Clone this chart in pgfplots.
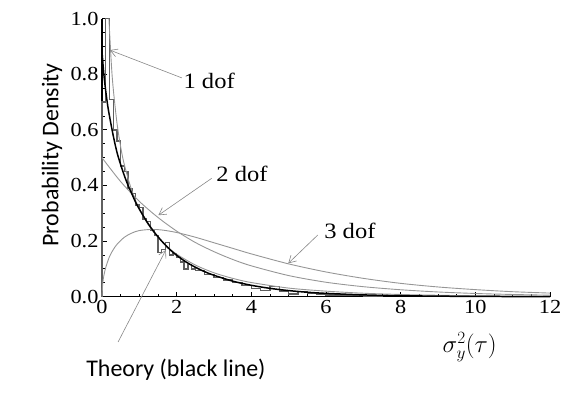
\documentclass[border=0pt]{standalone}
\usepackage{fontspec}
\setmainfont{Liberation Serif}[FakeStretch=1.12]
\newfontfamily\sansf{Carlito}
\usepackage{pgfplots}
\pgfplotsset{compat=1.18}
\usetikzlibrary{arrows.meta}
\definecolor{cgray}{RGB}{150,150,150}
\definecolor{hgray}{RGB}{95,95,95}
\definecolor{agray}{RGB}{135,135,135}
\begin{document}
\begin{tikzpicture}
\begin{axis}[
  at={(0,0)}, anchor=south west,
  width=448bp, height=278bp, scale only axis,
  xmin=0, xmax=12, ymin=0, ymax=1,
  axis lines=left, axis line style={-, line width=1.1pt},
  xtick={0,2,4,6,8,10,12}, ytick={0,0.2,0.4,0.6,0.8,1.0},
  minor x tick num=3, minor y tick num=3,
  tick align=inside, major tick length=5bp, minor tick length=3bp,
  tick style={black, line width=0.9pt},
  /pgf/number format/assume math mode=true,
  yticklabel style={/pgf/number format/fixed, /pgf/number format/fixed zerofill, /pgf/number format/precision=1},
  ticklabel style={font=\fontsize{20}{22}\selectfont},
  clip=false,
]
% histogram
\addplot[const plot, hgray, line width=1.3pt] coordinates {
(0,0) (0,0.70) (0.1,1.00) (0.2,0.71) (0.3,0.60) (0.4,0.56) (0.5,0.47) (0.6,0.45) (0.7,0.39) (0.8,0.37) (0.9,0.33)
(1.0,0.32) (1.1,0.28) (1.2,0.27) (1.3,0.24) (1.4,0.22) (1.5,0.16) (1.6,0.17) (1.7,0.195) (1.8,0.15) (1.9,0.155)
(2.0,0.14) (2.1,0.125) (2.2,0.10) (2.3,0.115) (2.4,0.10) (2.5,0.095) (2.75,0.08) (3.0,0.07) (3.25,0.06) (3.5,0.05)
(3.75,0.040) (4.0,0.030) (4.25,0.022) (4.5,0.036) (4.75,0.020) (5.0,0.010) (5.25,0.018) (5.5,0.012) (5.75,0.010)
(6.0,0.006) (6.5,0.004) (7.0,0.002) (7.5,0)
};
% 1 dof
\addplot[cgray, line width=0.9pt, smooth] coordinates {
(0.185,1.0) (0.25,0.838) (0.3,0.750) (0.4,0.626) (0.5,0.539) (0.6,0.474) (0.8,0.381) (1.0,0.316) (1.25,0.257)
(1.5,0.214) (1.75,0.180) (2,0.153) (2.5,0.114) (3,0.086) (3.5,0.066) (4,0.051) (5,0.031) (6,0.020) (7,0.0125)
(8,0.008) (9,0.0052) (10,0.0034) (12,0.0015)
};
% 2 dof
\addplot[cgray, line width=0.9pt, smooth] coordinates {
(0,0.5) (0.5,0.414) (1,0.343) (1.5,0.285) (2,0.236) (2.5,0.195) (3,0.162) (3.5,0.134) (4,0.111) (5,0.076)
(6,0.052) (7,0.036) (8,0.025) (9,0.017) (10,0.0116) (11,0.008) (12,0.0055)
};
% 3 dof
\addplot[cgray, line width=0.9pt, smooth] coordinates {
(0,0) (0.02,0.048) (0.05,0.076) (0.1,0.105) (0.2,0.144) (0.3,0.169) (0.4,0.188) (0.6,0.214) (0.8,0.229) (1.0,0.238)
(1.33,0.242) (1.6,0.240) (2,0.231) (2.5,0.214) (3,0.194) (3.5,0.174) (4,0.154) (5,0.118) (6,0.089) (7,0.066)
(8,0.048) (9,0.035) (10,0.0255) (11,0.018) (12,0.013)
};
% theory
\addplot[black, line width=1.5pt, smooth] coordinates {
(0,0.88) (0.05,0.80) (0.1,0.74) (0.15,0.69) (0.2,0.65) (0.3,0.58) (0.4,0.52) (0.5,0.475) (0.6,0.435) (0.7,0.40)
(0.8,0.37) (0.9,0.34) (1.0,0.315) (1.2,0.27) (1.4,0.232) (1.6,0.20) (1.8,0.172) (2.0,0.149) (2.25,0.125) (2.5,0.106)
(2.75,0.090) (3.0,0.077) (3.5,0.056) (4.0,0.041) (4.5,0.030) (5.0,0.022) (5.5,0.016) (6.0,0.012) (7.0,0.0065)
(8.0,0.0035) (9,0.002) (10,0.001) (12,0.0003)
};
% annotations
\draw[agray, line width=0.6pt, -{Straight Barb[length=7bp,width=8bp]}] (axis cs:2.14,0.787) -- (axis cs:0.21,0.887);
\node[font=\fontsize{22}{24}\selectfont] at (axis cs:2.87,0.776) {1 dof};
\draw[agray, line width=0.6pt, -{Straight Barb[length=7bp,width=8bp]}] (axis cs:2.94,0.426) -- (axis cs:1.51,0.293);
\node[font=\fontsize{22}{24}\selectfont] at (axis cs:3.75,0.441) {2 dof};
\draw[agray, line width=0.6pt, -{Straight Barb[length=7bp,width=8bp]}] (axis cs:5.78,0.222) -- (axis cs:4.99,0.12);
\node[font=\fontsize{22}{24}\selectfont] at (axis cs:6.64,0.236) {3 dof};
\draw[agray, line width=0.6pt, -{Straight Barb[length=7bp,width=8bp]}] (axis cs:0.43,-0.163) -- (axis cs:1.71,0.168);
\node[font=\sansf\fontsize{24}{26}\selectfont] at (axis cs:1.98,-0.263) {Theory (black line)};
\node[font=\fontsize{27}{30}\selectfont, inner sep=0pt] at (axis cs:9.85,-0.18) {$\sigma_y^2(\tau)$};
\node[font=\sansf\fontsize{24}{26}\selectfont, rotate=90] at (axis cs:-1.34,0.51) {Probability Density};
\end{axis}
\pgfresetboundingbox
\useasboundingbox (-102bp,-97.3bp) rectangle (472bp,296.7bp);
\end{tikzpicture}
\end{document}
